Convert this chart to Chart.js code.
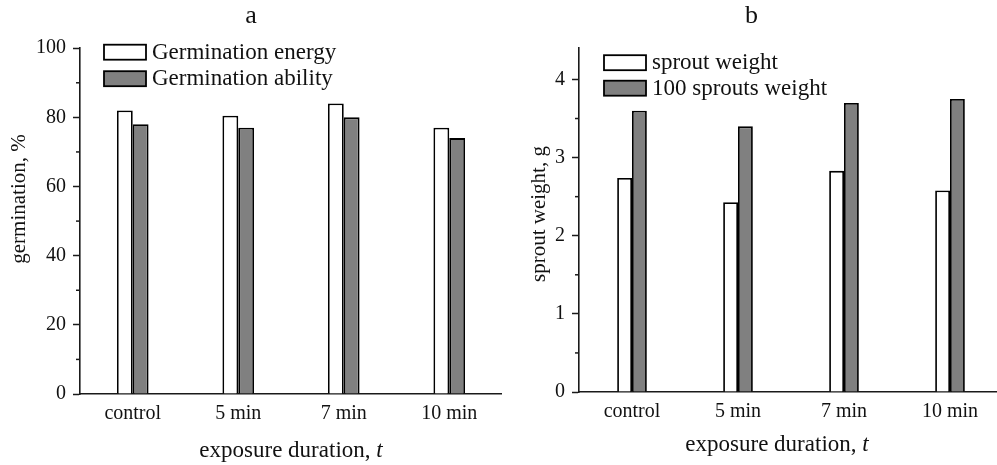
<!DOCTYPE html>
<html>
<head>
<meta charset="utf-8">
<script src="https://cdn.jsdelivr.net/npm/chart.js@4.4.0/dist/chart.umd.min.js"></script>
<style>
  html,body{margin:0;padding:0;background:#fff;overflow:hidden;}
  #wrapA{position:absolute;left:0;top:0;width:502px;height:465px;}
  #wrapB{position:absolute;left:500px;top:0;width:503px;height:465px;}
</style>
</head>
<body>
<div id="wrapA"><canvas id="chartA"></canvas></div>
<div id="wrapB"><canvas id="chartB"></canvas></div>
<script>
// data
const categories = ['control', '5 min', '7 min', '10 min'];
const germEnergy = [82, 80.5, 84, 77];
const germAbility = [78, 77, 80, 74];
const sproutWeight = [2.74, 2.43, 2.83, 2.58];
const sprout100Weight = [3.6, 3.4, 3.7, 3.75];
const ticksA = [0, 20, 40, 60, 80, 100];
const ticksB = [0, 1, 2, 3, 4];

const serif = '"Liberation Serif", "DejaVu Serif", serif';
const ink = '#111';
const axisCol = '#1a1a1a';

// minor ticks, legend inside plot, axis titles
const extras = {
    id: 'extras',
    afterDraw(chart, args, opts) {
        const ctx = chart.ctx;
        const area = chart.chartArea;
        const y = chart.scales.y;
        ctx.save();
        ctx.strokeStyle = axisCol;
        ctx.lineWidth = 1.5;
        const vals = y.ticks.map(t => t.value);
        for (let i = 0; i < vals.length - 1; i++) {
            const py = y.getPixelForValue((vals[i] + vals[i + 1]) / 2);
            ctx.beginPath();
            ctx.moveTo(area.left - 4, py);
            ctx.lineTo(area.left, py);
            ctx.stroke();
        }

        // legend
        const lg = opts.legend;
        ctx.font = '23px ' + serif;
        ctx.textBaseline = 'middle';
        ctx.textAlign = 'left';
        chart.data.datasets.forEach((ds, i) => {
            const bx = area.left + lg.x;
            const by = area.top + lg.y + i * lg.gap;
            ctx.fillStyle = ds.backgroundColor;
            ctx.fillRect(bx, by, 42, 15);
            ctx.strokeStyle = '#000';
            ctx.lineWidth = 1.8;
            ctx.strokeRect(bx, by, 42, 15);
            ctx.fillStyle = ink;
            ctx.fillText(ds.label, bx + 48, by + 8);
        });

        // y title
        ctx.font = '21px ' + serif;
        ctx.textAlign = 'center';
        ctx.translate(opts.yTitle.x, opts.yTitle.y);
        ctx.rotate(-Math.PI / 2);
        ctx.fillText(opts.yTitle.text, 0, 0);
        ctx.restore();

        // x title, last letter in italics
        ctx.save();
        ctx.fillStyle = ink;
        ctx.textBaseline = 'middle';
        ctx.textAlign = 'left';
        ctx.font = '23px ' + serif;
        const w1 = ctx.measureText(opts.xTitle.text).width;
        ctx.font = 'italic 23px ' + serif;
        const w2 = ctx.measureText(opts.xTitle.italic).width;
        const x0 = opts.xTitle.x - (w1 + w2) / 2;
        ctx.font = '23px ' + serif;
        ctx.fillText(opts.xTitle.text, x0, opts.xTitle.y);
        ctx.font = 'italic 23px ' + serif;
        ctx.fillText(opts.xTitle.italic, x0 + w1, opts.xTitle.y);
        ctx.restore();
    }
};

function makeChart(id, cfg) {
    return new Chart(document.getElementById(id).getContext('2d'), {
        type: 'bar',
        data: {
            labels: categories,
            datasets: [{
                label: cfg.labels[0],
                data: cfg.series[0],
                backgroundColor: '#ffffff',
                borderColor: '#000',
                borderWidth: 1.8,
                borderSkipped: 'start'
            }, {
                label: cfg.labels[1],
                data: cfg.series[1],
                backgroundColor: '#808080',
                borderColor: '#000',
                borderWidth: 1.8,
                borderSkipped: 'start'
            }]
        },
        options: {
            responsive: true,
            maintainAspectRatio: false,
            animation: false,
            events: [],
            categoryPercentage: cfg.catPct,
            barPercentage: 1,
            layout: { padding: 0 },
            plugins: {
                legend: { display: false },
                tooltip: { enabled: false },
                title: {
                    display: true,
                    text: cfg.title,
                    color: ink,
                    font: { family: serif, size: 26, weight: 'normal' },
                    padding: { top: 1, bottom: 16 }
                },
                extras: {
                    legend: cfg.legend,
                    yTitle: cfg.yTitle,
                    xTitle: cfg.xTitle
                }
            },
            scales: {
                x: {
                    grid: { display: false, drawTicks: false },
                    border: { display: true, color: axisCol, width: 1.6 },
                    ticks: { color: ink, padding: 8, maxRotation: 0, font: { family: serif, size: 20 } },
                    afterFit(s) { s.height = cfg.xHeight; }
                },
                y: {
                    min: 0,
                    max: cfg.max,
                    afterBuildTicks(s) { s.ticks = cfg.ticks.map(v => ({ value: v })); },
                    grid: { drawOnChartArea: false, tickLength: 7, tickColor: axisCol, tickWidth: 1.5 },
                    border: { display: true, color: axisCol, width: 1.6 },
                    ticks: { color: ink, padding: 7, font: { family: serif, size: 20 } },
                    afterFit(s) { s.width = cfg.yWidth; }
                }
            }
        },
        plugins: [extras]
    });
}

makeChart('chartA', {
    title: 'a',
    labels: ['Germination energy', 'Germination ability'],
    series: [germEnergy, germAbility],
    max: 100,
    ticks: ticksA,
    catPct: 0.30,
    yWidth: 80,
    xHeight: 71,
    legend: { x: 24, y: -3.5, gap: 26.5 },
    yTitle: { text: 'germination, %', x: 19, y: 199 },
    xTitle: { text: 'exposure duration, ', italic: 't', x: 291, y: 451 }
});

makeChart('chartB', {
    title: 'b',
    labels: ['sprout weight', '100 sprouts weight'],
    series: [sproutWeight, sprout100Weight],
    max: 4.4,
    ticks: ticksB,
    catPct: 0.28,
    yWidth: 79,
    xHeight: 73,
    legend: { x: 25, y: 7, gap: 25.5 },
    yTitle: { text: 'sprout weight, g', x: 39, y: 214 },
    xTitle: { text: 'exposure duration, ', italic: 't', x: 277, y: 445 }
});
</script>
</body>
</html>
